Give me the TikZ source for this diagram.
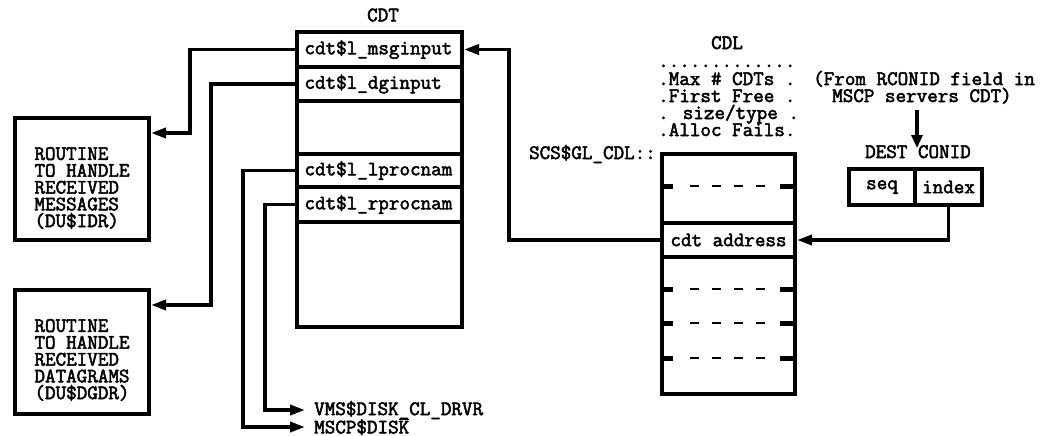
\documentclass[tikz,border=0pt]{standalone}
\usepackage{fontspec}
\newfontfamily\cour{Latin Modern Mono}[FakeBold=2.5]
\usetikzlibrary{arrows.meta,calc}
\begin{document}
\begin{tikzpicture}[x=1pt,y=-1pt,
  every node/.style={font=\cour\fontsize{20.5}{16.8}\selectfont},
  box/.style={draw,line width=4pt,inner sep=0pt,anchor=north west},
  cdtrow/.style={box,minimum width=165pt,text width=150pt,align=left},
  cdlrow/.style={box,minimum width=133pt},
  rbox/.style={box,minimum width=134pt},
  lbl/.style={inner sep=0pt},
  conn/.style={line width=3.5pt,-{Triangle[length=15pt,width=10pt]}},
  stub/.style={line width=5pt},
  dsh/.style={line width=2.5pt,dash pattern=on 9pt off 13pt}]
\useasboundingbox (0,0) rectangle (1049,436);
% CDT
\node (cdtlbl) at (383,15) {CDT};
\node[cdtrow,minimum height=35pt] (msg) at (295,30) {cdt\$l\_msginput};
\node[cdtrow,minimum height=34pt] (dg) at (295,65) {cdt\$l\_dginput};
\node[cdtrow,minimum height=53pt] (e1) at (295,99) {};
\node[cdtrow,minimum height=33pt] (lproc) at (295,152) {cdt\$l\_lprocnam};
\node[cdtrow,minimum height=35pt] (rproc) at (295,185) {cdt\$l\_rprocnam};
\node[cdtrow,minimum height=105pt] (e2) at (295,220) {};
% routines
\node[rbox,minimum height=122pt] (r1) at (13,116) {};
\node[align=left] (r1t) at ($(r1.center)+(0,9)$) {ROUTINE\\TO HANDLE\\RECEIVED\\MESSAGES\\(DU\$IDR)};
\node[rbox,minimum height=124pt] (r2) at (13,288) {};
\node[align=left] (r2t) at ($(r2.center)+(0,8)$) {ROUTINE\\TO HANDLE\\RECEIVED\\DATAGRAMS\\(DU\$DGDR)};
% bottom labels
\node[lbl,anchor=west] (vms) at (314,410) {VMS\$DISK\_CL\_DRVR};
\node[lbl,anchor=west] (mscp) at (314,427) {MSCP\$DIS$\overline{\hbox{K}}$};
% CDL header
\node[lbl,anchor=base] (cdllbl) at (727,49) {CDL};
\node[lbl,anchor=base west] (h0) at (658,67) {.............};
\node[lbl,anchor=base west] (h1) at (658,85) {.Max \# CDTs .};
\node[lbl,anchor=base west] (h2) at (658,102) {.First Free .};
\node[lbl,anchor=base west] (h3) at (658,119) {. size/type .};
\node[lbl,anchor=base west] (h4) at (658,136) {.Alloc Fails.};
\node[lbl,anchor=base east] (scs) at (656,159) {SCS\$GL\_CDL::};
% CDL
\node[cdlrow,minimum height=69pt] (cdlA) at (660,152) {};
\node[cdlrow,minimum height=34pt] (addr) at (660,221) {cdt address};
\node[cdlrow,minimum height=137pt] (cdlB) at (660,255) {};
\foreach \y in {186,289,323,358} {
  \draw[stub] (660,\y) -- ++(13,0);
  \draw[stub] (793,\y) -- ++(-13,0);
  \draw[dsh] (690,\y) -- (766,\y);
}
% DEST CONID
\node[lbl,anchor=base west] (from1) at (813,85) {(From RCONID field in};
\node[lbl,anchor=base west] (from2) at (832,102) {MSCP servers CDT)};
\node[lbl,anchor=base west] (dest) at (865,158) {DEST CONID};
\node[box,minimum width=66pt,minimum height=36pt] (seq) at (847,167) {seq};
\node[box,minimum width=67pt,minimum height=36pt] (idx) at (913,167) {index};
% connectors
\draw[line width=4.5pt,-{Triangle[length=13pt,width=11pt]}] ($(from2.south -| seq.east)+(0,6)$) -- ($(dest.north -| seq.east)+(0,3)$);
\draw[conn] (msg.west) -| (190,133) -- (r1.east |- 0,133);
\draw[conn] (dg.west) -| (211,305) -- (r2.east |- 0,305);
\draw[conn] (lproc.west) -| ($(mscp.west)+(-71,0)$) -- ([xshift=-9pt]mscp.west);
\draw[conn] (rproc.west) -| ($(vms.west)+(-49,0)$) -- ([xshift=-9pt]vms.west);
\draw[conn] (addr.west) -| ($(msg.east)+(45,0)$) -- (msg.east);
\draw[conn] (idx.south) |- (addr.east);
\end{tikzpicture}
\end{document}
